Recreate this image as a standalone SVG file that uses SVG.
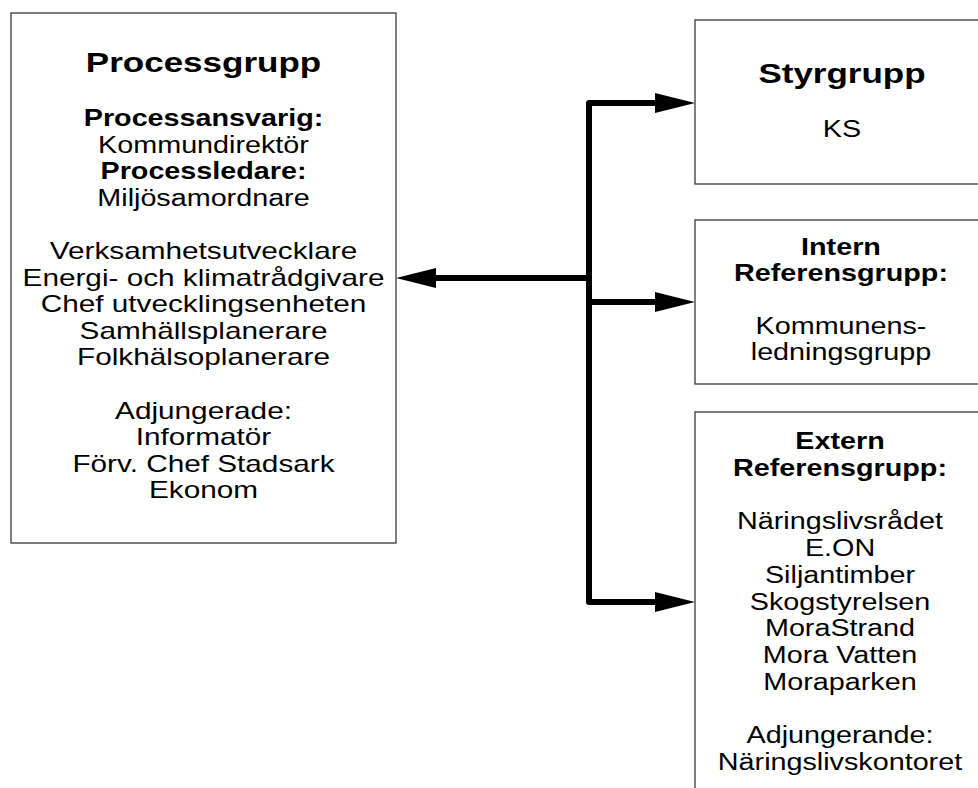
<svg xmlns="http://www.w3.org/2000/svg" width="978" height="788" viewBox="0 0 978 788">
<style>
.box{fill:#fff;stroke:#3a3a3a;stroke-width:1.3}
text{font-family:"Liberation Sans",Arial,sans-serif;font-size:23px;fill:#000;text-anchor:middle}
.b{font-weight:bold}
.t{font-weight:bold;font-size:28px}
.l{font-size:23.8px}
.con{fill:none;stroke:#000;stroke-width:6;stroke-linejoin:round}
</style>
<defs>
<marker id="ah" markerUnits="userSpaceOnUse" markerWidth="40" markerHeight="20" refX="1" refY="10" orient="auto-start-reverse" overflow="visible">
<path d="M0,0 L40,10 L0,20 z" fill="#000"/>
</marker>
</defs>
<rect width="978" height="788" fill="#fff"/>
<g id="processgrupp">
<rect class="box" x="11" y="13" width="385" height="530"/>
<g transform="translate(203.5 0) scale(1.25 1)">
<text class="t" x="0" y="72">Processgrupp</text>
<text class="b" x="0" y="126">Processansvarig:</text>
<text x="0" y="152.6">Kommundirektör</text>
<text class="b" x="0" y="179.2">Processledare:</text>
<text x="0" y="205.8">Miljösamordnare</text>
<text class="l" x="0" y="259">Verksamhetsutvecklare</text>
<text class="l" x="0" y="285.6">Energi- och klimatrådgivare</text>
<text class="l" x="0" y="312.2">Chef utvecklingsenheten</text>
<text class="l" x="0" y="338.8">Samhällsplanerare</text>
<text class="l" x="0" y="365.4">Folkhälsoplanerare</text>
<text class="l" x="0" y="418.6">Adjungerade:</text>
<text class="l" x="0" y="445.2">Informatör</text>
<text class="l" x="0" y="471.8">Förv. Chef Stadsark</text>
<text class="l" x="0" y="498.4">Ekonom</text>
</g>
</g>
<g id="styrgrupp">
<rect class="box" x="695" y="20" width="300" height="164"/>
<g transform="translate(842 0) scale(1.25 1)">
<text class="t" x="0" y="83">Styrgrupp</text>
<text x="0" y="137">KS</text>
</g>
</g>
<g id="intern">
<rect class="box" x="695" y="220" width="300" height="164"/>
<g transform="translate(841 0) scale(1.25 1)">
<text class="b" x="0" y="255">Intern</text>
<text class="b" x="0" y="281">Referensgrupp:</text>
<text x="0" y="334">Kommunens-</text>
<text x="0" y="360">ledningsgrupp</text>
</g>
</g>
<g id="extern">
<rect class="box" x="695" y="412" width="300" height="400"/>
<g transform="translate(840 0) scale(1.25 1)">
<text class="b" x="0" y="449">Extern</text>
<text class="b" x="0" y="476">Referensgrupp:</text>
<text x="0" y="529.5">Näringslivsrådet</text>
<text x="0" y="556">E.ON</text>
<text x="0" y="583">Siljantimber</text>
<text x="0" y="610">Skogstyrelsen</text>
<text x="0" y="636.5">MoraStrand</text>
<text x="0" y="663">Mora Vatten</text>
<text x="0" y="690">Moraparken</text>
<text x="0" y="743">Adjungerande:</text>
<text x="0" y="770">Näringslivskontoret</text>
</g>
</g>
<g id="connectors">
<path class="con" d="M656,103 H589 V602 H656" marker-start="url(#ah)" marker-end="url(#ah)"/>
<path class="con" d="M589,302 H656" marker-end="url(#ah)"/>
<path class="con" d="M589,278 H435" marker-end="url(#ah)"/>
</g>
</svg>
